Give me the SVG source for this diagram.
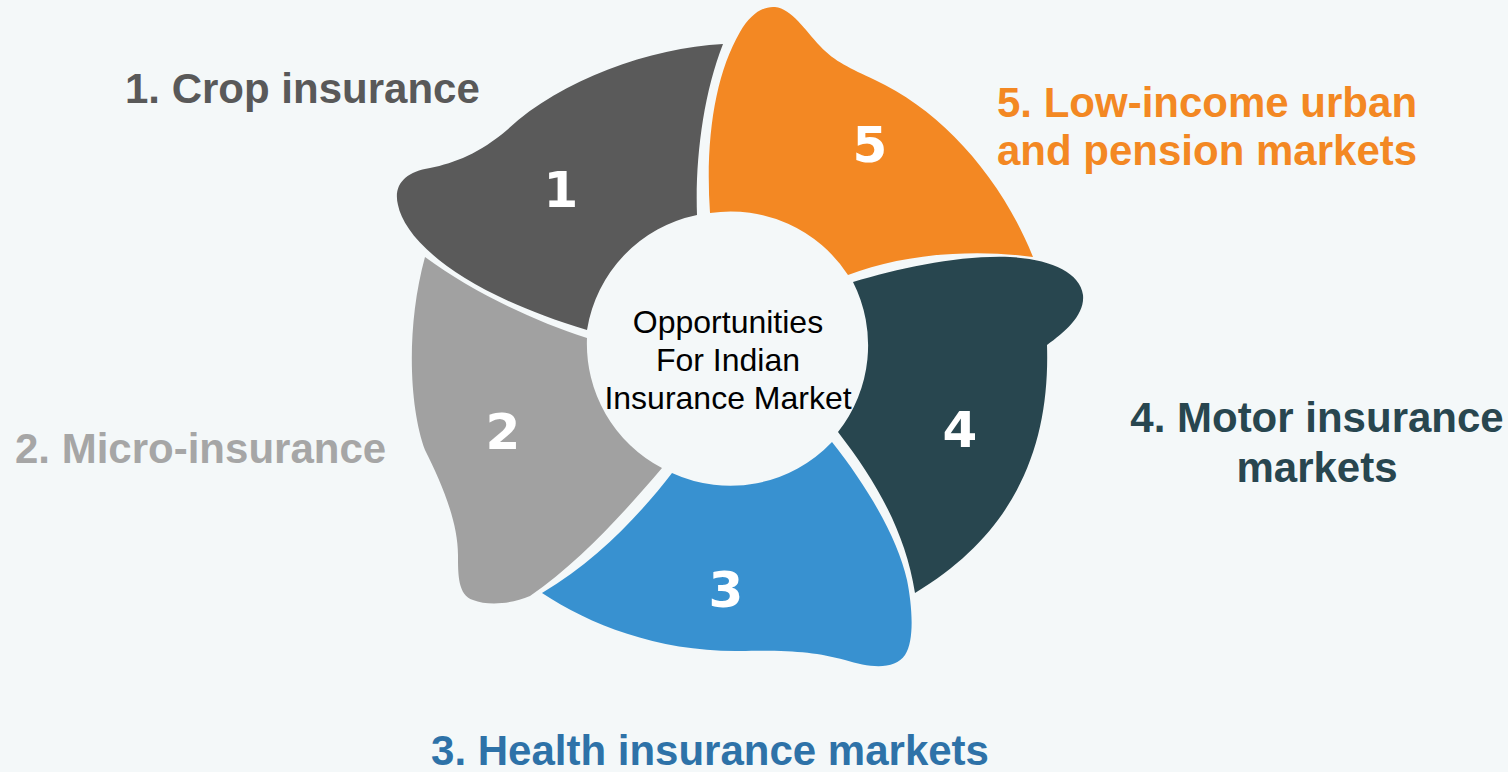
<svg xmlns="http://www.w3.org/2000/svg" width="1508" height="772" viewBox="0 0 1508 772">
<style>
.lbl{font-family:"Liberation Sans",Arial,sans-serif;font-weight:bold;font-size:42px}
.num{font-family:"DejaVu Sans",sans-serif;font-weight:bold;font-size:50px;fill:#ffffff;text-anchor:middle}
.ctr{font-family:"Liberation Sans",Arial,sans-serif;font-size:32px;fill:#000000;text-anchor:middle}
</style>
<rect x="0" y="0" width="1508" height="772" fill="#f4f8f9"/>
<g id="petal1">
<path fill="#5a5a5a" d="M723,44 C650,48 560,80 507,130 C480,153 455,163 430,168 C405,172 393,185 398,205 C405,240 460,292 587,330 A140,140 0 0 1 697,215 C695,160 703,95 723,44 Z"/>
<text class="num" x="561" y="207">1</text>
</g>
<g id="petal5">
<path fill="#f38823" d="M1033,257 C970,248 900,255 848,275 A140,140 0 0 0 710,213 C705,140 715,75 740,32 C750,15 762,6 775,7 C792,9 805,30 820,46 C835,62 850,68 875,80 C940,110 1000,175 1033,257 Z"/>
<text class="num" x="870" y="162">5</text>
</g>
<g id="petal4">
<path fill="#28464f" d="M853,282 C900,268 960,255 1010,257 C1050,259 1080,272 1083,295 C1085,315 1065,332 1047,345 C1050,440 1020,530 915,593 C905,530 875,480 838,432 A140,140 0 0 0 853,282 Z"/>
<text class="num" x="960" y="447">4</text>
</g>
<g id="petal3">
<path fill="#3891d0" d="M832,442 A140,140 0 0 1 672,473 C642,512 598,560 542,593 C590,625 660,652 740,651 C790,650 815,652 845,660 C870,668 895,670 905,655 C915,640 912,605 907,580 C898,540 870,490 832,442 Z"/>
<text class="num" x="726" y="607">3</text>
</g>
<g id="petal2">
<path fill="#a1a1a1" d="M425,257 C470,290 530,320 587,338 A140,140 0 0 0 662,468 C628,508 580,562 530,596 C512,604 488,606 473,600 C458,595 458,575 458,555 C458,520 440,480 425,450 C410,410 405,330 425,257 Z"/>
<text class="num" x="503" y="449">2</text>
</g>
<g id="center">
<text class="ctr" x="728" y="333">Opportunities</text>
<text class="ctr" x="728" y="371">For Indian</text>
<text class="ctr" x="728" y="409">Insurance Market</text>
</g>
<g id="labels">
<text class="lbl" x="125" y="103" fill="#595959">1. Crop insurance</text>
<text class="lbl" x="15" y="463" fill="#a6a6a6">2. Micro-insurance</text>
<text class="lbl" x="710" y="765" fill="#2e72a8" text-anchor="middle">3. Health insurance markets</text>
<text class="lbl" x="1317" y="432" fill="#28464f" text-anchor="middle">4. Motor insurance</text>
<text class="lbl" x="1317" y="482" fill="#28464f" text-anchor="middle">markets</text>
<text class="lbl" x="997" y="117" fill="#f38823">5. Low-income urban</text>
<text class="lbl" x="997" y="165" fill="#f38823">and pension markets</text>
</g>
<g id="connectors"></g>
</svg>
